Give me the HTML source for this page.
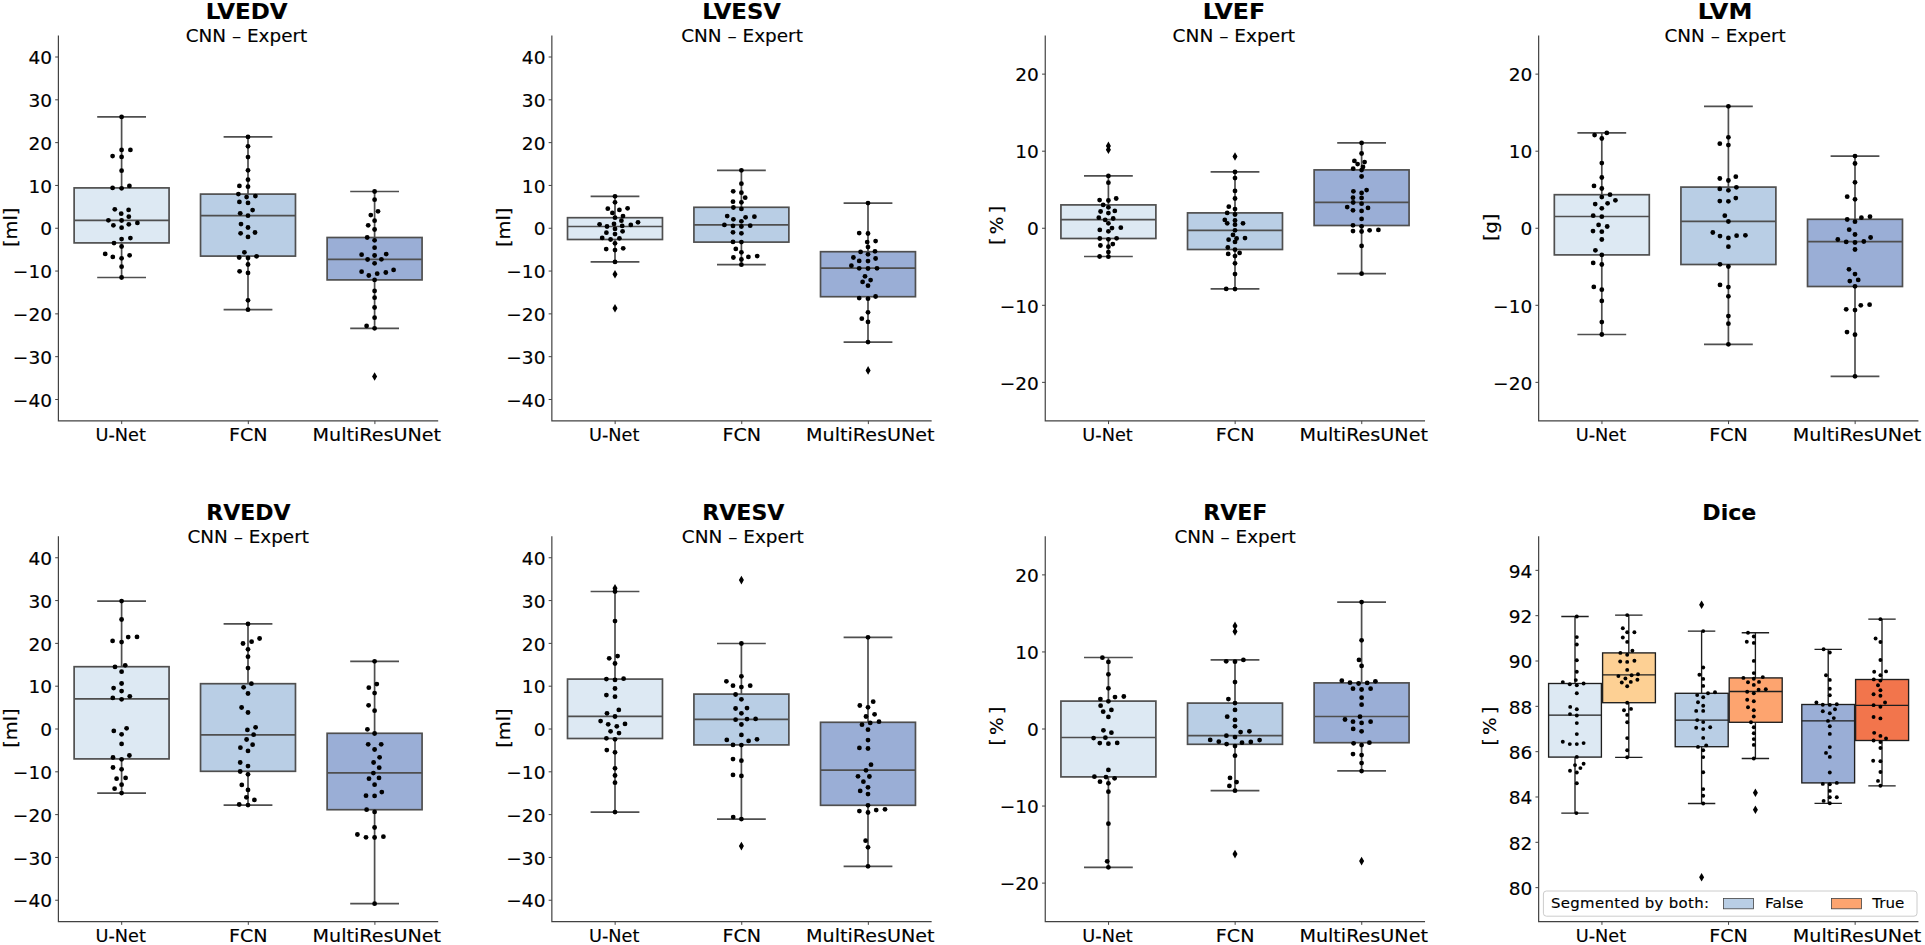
<!DOCTYPE html>
<html lang="en"><head><meta charset="utf-8"><title>CNN – Expert boxplots</title>
<style>html,body{margin:0;padding:0;background:#fff}body{width:1925px;height:945px;overflow:hidden}svg{display:block}svg text{stroke:#000;stroke-width:.15px}</style>
</head><body>
<svg width="1925" height="945" viewBox="0 0 1925 945" font-family="'DejaVu Sans', 'Liberation Sans', sans-serif" fill="#000">
<rect width="1925" height="945" fill="#fff"/>
<g>
<text transform="translate(246.7 19) scale(1.0543 1)" font-size="21.8" text-anchor="middle" font-weight="bold">LVEDV</text>
<text transform="translate(246.5 41.9) scale(1.0116 1)" font-size="18.2" text-anchor="middle">CNN – Expert</text>
<g stroke="#4f4f4f" stroke-width="1.7" fill="none">
<rect x="74.12" y="187.9" width="94.95" height="55" fill="#dde9f3"/>
<path d="M74.12 220.3H169.07M121.6 187.9V116.9M121.6 242.9V277.5M97.2 116.9h48.8M97.2 277.5h48.8"/>
</g>
<g fill="#000"><circle cx="121.6" cy="116.9" r="2.4"/><circle cx="121.6" cy="149.9" r="2.4"/><circle cx="130.4" cy="149.9" r="2.4"/><circle cx="112.6" cy="156.1" r="2.4"/><circle cx="121.6" cy="156.9" r="2.4"/><circle cx="121.6" cy="170.7" r="2.4"/><circle cx="129.4" cy="185.9" r="2.4"/><circle cx="112.6" cy="187.9" r="2.4"/><circle cx="121.6" cy="188.3" r="2.4"/><circle cx="114.8" cy="209.3" r="2.4"/><circle cx="128.6" cy="209.9" r="2.4"/><circle cx="121.2" cy="213.7" r="2.4"/><circle cx="128.8" cy="216.7" r="2.4"/><circle cx="108.4" cy="220.3" r="2.4"/><circle cx="121.6" cy="220.5" r="2.4"/><circle cx="137.4" cy="222.9" r="2.4"/><circle cx="113.4" cy="225.3" r="2.4"/><circle cx="128.8" cy="224.3" r="2.4"/><circle cx="121.6" cy="227.7" r="2.4"/><circle cx="130.4" cy="238.1" r="2.4"/><circle cx="121.6" cy="239.1" r="2.4"/><circle cx="114" cy="243.1" r="2.4"/><circle cx="121.6" cy="246.5" r="2.4"/><circle cx="105.2" cy="253.9" r="2.4"/><circle cx="129.6" cy="255.3" r="2.4"/><circle cx="112.8" cy="256.9" r="2.4"/><circle cx="121.6" cy="258.3" r="2.4"/><circle cx="121.6" cy="266.7" r="2.4"/><circle cx="121.6" cy="277.5" r="2.4"/></g>
<g stroke="#4f4f4f" stroke-width="1.7" fill="none">
<rect x="200.53" y="194.1" width="94.95" height="62" fill="#b9cee5"/>
<path d="M200.53 215.7H295.48M248 194.1V136.9M248 256.1V309.7M223.6 136.9h48.8M223.6 309.7h48.8"/>
</g>
<g fill="#000"><circle cx="248" cy="136.9" r="2.4"/><circle cx="248" cy="146.3" r="2.4"/><circle cx="248" cy="157.1" r="2.4"/><circle cx="248" cy="170.3" r="2.4"/><circle cx="248" cy="179.7" r="2.4"/><circle cx="239.4" cy="185.9" r="2.4"/><circle cx="248" cy="186.7" r="2.4"/><circle cx="238.4" cy="194.1" r="2.4"/><circle cx="246.6" cy="197.1" r="2.4"/><circle cx="255.4" cy="196.1" r="2.4"/><circle cx="239.4" cy="201.9" r="2.4"/><circle cx="248" cy="202.9" r="2.4"/><circle cx="252.6" cy="210.1" r="2.4"/><circle cx="240.2" cy="213.3" r="2.4"/><circle cx="248" cy="215.7" r="2.4"/><circle cx="241" cy="224.1" r="2.4"/><circle cx="248" cy="227.5" r="2.4"/><circle cx="240.6" cy="233.3" r="2.4"/><circle cx="255" cy="232.5" r="2.4"/><circle cx="248" cy="236.9" r="2.4"/><circle cx="244.4" cy="252.3" r="2.4"/><circle cx="239.2" cy="257.5" r="2.4"/><circle cx="248" cy="257.9" r="2.4"/><circle cx="256.6" cy="256.3" r="2.4"/><circle cx="248" cy="264.5" r="2.4"/><circle cx="239.6" cy="271.3" r="2.4"/><circle cx="248" cy="272.9" r="2.4"/><circle cx="248" cy="300.3" r="2.4"/><circle cx="248" cy="309.7" r="2.4"/></g>
<g stroke="#4f4f4f" stroke-width="1.7" fill="none">
<rect x="327.12" y="237.5" width="94.95" height="42.4" fill="#9aaed6"/>
<path d="M327.12 259.3H422.08M374.6 237.5V191.5M374.6 279.9V328.3M350.2 191.5h48.8M350.2 328.3h48.8"/>
</g>
<path d="M374.6 372.2l2.5 4.3l-2.5 4.3l-2.5 -4.3z" fill="#000"/><circle cx="374.6" cy="376.5" r="1.7999999999999998" fill="#000"/>
<g fill="#000"><circle cx="374.6" cy="191.5" r="2.4"/><circle cx="374.6" cy="199.7" r="2.4"/><circle cx="378" cy="211.3" r="2.4"/><circle cx="370.8" cy="215.1" r="2.4"/><circle cx="374.6" cy="220.7" r="2.4"/><circle cx="368.2" cy="225.3" r="2.4"/><circle cx="374.6" cy="229.5" r="2.4"/><circle cx="367.2" cy="237.5" r="2.4"/><circle cx="374.6" cy="240.3" r="2.4"/><circle cx="374.6" cy="247.7" r="2.4"/><circle cx="361.6" cy="254.7" r="2.4"/><circle cx="374.6" cy="255.5" r="2.4"/><circle cx="386.2" cy="254.1" r="2.4"/><circle cx="367.6" cy="259.5" r="2.4"/><circle cx="381.4" cy="259.3" r="2.4"/><circle cx="374.6" cy="263.3" r="2.4"/><circle cx="361.6" cy="271.7" r="2.4"/><circle cx="393.6" cy="269.9" r="2.4"/><circle cx="368.8" cy="275.5" r="2.4"/><circle cx="377.2" cy="273.7" r="2.4"/><circle cx="385.8" cy="272.5" r="2.4"/><circle cx="374.6" cy="279.9" r="2.4"/><circle cx="374.6" cy="290.9" r="2.4"/><circle cx="374.6" cy="297.7" r="2.4"/><circle cx="374.6" cy="307.5" r="2.4"/><circle cx="374.6" cy="317.7" r="2.4"/><circle cx="366.6" cy="325.9" r="2.4"/><circle cx="374.6" cy="328.3" r="2.4"/></g>
<path d="M58.4 35.6V420.9H438.2" fill="none" stroke="#424242" stroke-width="1.2"/>
<path d="M58.4 57.01h-3.2M58.4 99.82h-3.2M58.4 142.63h-3.2M58.4 185.44h-3.2M58.4 228.25h-3.2M58.4 271.06h-3.2M58.4 313.87h-3.2M58.4 356.68h-3.2M58.4 399.49h-3.2M121.7 420.9v3.2M248.3 420.9v3.2M374.9 420.9v3.2" fill="none" stroke="#424242" stroke-width="1"/>
<text transform="translate(52 64.21) scale(1.02 1)" font-size="18.2" text-anchor="end">40</text>
<text transform="translate(52 107.02) scale(1.02 1)" font-size="18.2" text-anchor="end">30</text>
<text transform="translate(52 149.83) scale(1.02 1)" font-size="18.2" text-anchor="end">20</text>
<text transform="translate(52 192.64) scale(1.02 1)" font-size="18.2" text-anchor="end">10</text>
<text transform="translate(52 235.45) scale(1.02 1)" font-size="18.2" text-anchor="end">0</text>
<text transform="translate(52 278.26) scale(1.02 1)" font-size="18.2" text-anchor="end">−10</text>
<text transform="translate(52 321.07) scale(1.02 1)" font-size="18.2" text-anchor="end">−20</text>
<text transform="translate(52 363.88) scale(1.02 1)" font-size="18.2" text-anchor="end">−30</text>
<text transform="translate(52 406.69) scale(1.02 1)" font-size="18.2" text-anchor="end">−40</text>
<text transform="translate(120.7 441.1) scale(0.973 1)" font-size="18.2" text-anchor="middle">U-Net</text>
<text transform="translate(248.3 441.1) scale(1.052 1)" font-size="18.2" text-anchor="middle">FCN</text>
<text transform="translate(376.8 441.1) scale(1.052 1)" font-size="18.2" text-anchor="middle">MultiResUNet</text>
<text transform="translate(16.6 227.35) rotate(-90) scale(1.1 1)" font-size="17.7" text-anchor="middle">[ml]</text>
</g>
<g>
<text transform="translate(741.65 19) scale(1.0461 1)" font-size="21.8" text-anchor="middle" font-weight="bold">LVESV</text>
<text transform="translate(742.05 41.9) scale(1.0129 1)" font-size="18.2" text-anchor="middle">CNN – Expert</text>
<g stroke="#4f4f4f" stroke-width="1.7" fill="none">
<rect x="567.52" y="217.7" width="94.95" height="21.8" fill="#dde9f3"/>
<path d="M567.52 226.5H662.48M615 217.7V196.3M615 239.5V261.9M590.6 196.3h48.8M590.6 261.9h48.8"/>
</g>
<path d="M615 270l2.5 4.3l-2.5 4.3l-2.5 -4.3z" fill="#000"/><circle cx="615" cy="274.3" r="1.7999999999999998" fill="#000"/>
<path d="M615 304l2.5 4.3l-2.5 4.3l-2.5 -4.3z" fill="#000"/><circle cx="615" cy="308.3" r="1.7999999999999998" fill="#000"/>
<g fill="#000"><circle cx="615" cy="196.3" r="2.4"/><circle cx="615" cy="202.3" r="2.4"/><circle cx="607.8" cy="208.7" r="2.4"/><circle cx="619.4" cy="209.9" r="2.4"/><circle cx="627.6" cy="208.3" r="2.4"/><circle cx="612.4" cy="212.9" r="2.4"/><circle cx="623" cy="216.1" r="2.4"/><circle cx="615" cy="217.7" r="2.4"/><circle cx="621.4" cy="220.7" r="2.4"/><circle cx="599.6" cy="224.3" r="2.4"/><circle cx="614" cy="223.9" r="2.4"/><circle cx="638" cy="222.3" r="2.4"/><circle cx="607" cy="226.5" r="2.4"/><circle cx="622.2" cy="225.9" r="2.4"/><circle cx="630.8" cy="224.9" r="2.4"/><circle cx="615" cy="228.9" r="2.4"/><circle cx="606.4" cy="232.7" r="2.4"/><circle cx="622.6" cy="231.3" r="2.4"/><circle cx="615" cy="234.1" r="2.4"/><circle cx="602.2" cy="237.9" r="2.4"/><circle cx="610.6" cy="239.5" r="2.4"/><circle cx="619.4" cy="238.3" r="2.4"/><circle cx="615" cy="243.3" r="2.4"/><circle cx="606.2" cy="249.1" r="2.4"/><circle cx="615" cy="250.1" r="2.4"/><circle cx="623.2" cy="248.3" r="2.4"/><circle cx="615" cy="261.9" r="2.4"/></g>
<g stroke="#4f4f4f" stroke-width="1.7" fill="none">
<rect x="693.92" y="207.3" width="94.95" height="34.8" fill="#b9cee5"/>
<path d="M693.92 224.9H788.88M741.4 207.3V170.3M741.4 242.1V264.7M717 170.3h48.8M717 264.7h48.8"/>
</g>
<g fill="#000"><circle cx="741.4" cy="170.3" r="2.4"/><circle cx="741.4" cy="183.7" r="2.4"/><circle cx="733.2" cy="191.3" r="2.4"/><circle cx="741.4" cy="192.7" r="2.4"/><circle cx="745.2" cy="197.7" r="2.4"/><circle cx="733" cy="201.7" r="2.4"/><circle cx="741.4" cy="202.3" r="2.4"/><circle cx="733.4" cy="207.5" r="2.4"/><circle cx="741.4" cy="208.9" r="2.4"/><circle cx="727.2" cy="216.1" r="2.4"/><circle cx="745.6" cy="217.3" r="2.4"/><circle cx="754.4" cy="216.7" r="2.4"/><circle cx="733.4" cy="219.3" r="2.4"/><circle cx="741.4" cy="221.3" r="2.4"/><circle cx="724.4" cy="224.9" r="2.4"/><circle cx="733" cy="225.9" r="2.4"/><circle cx="741.4" cy="226.5" r="2.4"/><circle cx="750.2" cy="225.7" r="2.4"/><circle cx="733" cy="232.3" r="2.4"/><circle cx="741.4" cy="233.3" r="2.4"/><circle cx="733" cy="241.9" r="2.4"/><circle cx="741.4" cy="242.1" r="2.4"/><circle cx="735.8" cy="248.9" r="2.4"/><circle cx="741.4" cy="252.3" r="2.4"/><circle cx="733.4" cy="257.5" r="2.4"/><circle cx="741.4" cy="259.5" r="2.4"/><circle cx="748.4" cy="256.9" r="2.4"/><circle cx="757.2" cy="256.1" r="2.4"/><circle cx="741.4" cy="264.7" r="2.4"/></g>
<g stroke="#4f4f4f" stroke-width="1.7" fill="none">
<rect x="820.52" y="251.7" width="94.95" height="45" fill="#9aaed6"/>
<path d="M820.52 268.1H915.48M868 251.7V203.1M868 296.7V342.1M843.6 203.1h48.8M843.6 342.1h48.8"/>
</g>
<path d="M868.1 366.1l2.5 4.3l-2.5 4.3l-2.5 -4.3z" fill="#000"/><circle cx="868.1" cy="370.4" r="1.7999999999999998" fill="#000"/>
<g fill="#000"><circle cx="868" cy="203.1" r="2.4"/><circle cx="859.2" cy="233.1" r="2.4"/><circle cx="868" cy="233.5" r="2.4"/><circle cx="867.2" cy="242.1" r="2.4"/><circle cx="875.6" cy="241.1" r="2.4"/><circle cx="868" cy="247.1" r="2.4"/><circle cx="860.6" cy="251.9" r="2.4"/><circle cx="875" cy="251.3" r="2.4"/><circle cx="868" cy="254.3" r="2.4"/><circle cx="853.4" cy="257.5" r="2.4"/><circle cx="875.6" cy="258.5" r="2.4"/><circle cx="859.2" cy="260.9" r="2.4"/><circle cx="868" cy="261.1" r="2.4"/><circle cx="851.4" cy="265.7" r="2.4"/><circle cx="859.2" cy="268.3" r="2.4"/><circle cx="868" cy="268.5" r="2.4"/><circle cx="877" cy="268.3" r="2.4"/><circle cx="865" cy="276.3" r="2.4"/><circle cx="870.6" cy="280.1" r="2.4"/><circle cx="862.6" cy="281.9" r="2.4"/><circle cx="868" cy="285.7" r="2.4"/><circle cx="859.2" cy="298.1" r="2.4"/><circle cx="868" cy="298.7" r="2.4"/><circle cx="875.6" cy="296.5" r="2.4"/><circle cx="868" cy="312.3" r="2.4"/><circle cx="861.8" cy="318.7" r="2.4"/><circle cx="868" cy="321.9" r="2.4"/><circle cx="868" cy="342.1" r="2.4"/></g>
<path d="M551.85 35.6V420.9H931.65" fill="none" stroke="#424242" stroke-width="1.2"/>
<path d="M551.85 57.01h-3.2M551.85 99.82h-3.2M551.85 142.63h-3.2M551.85 185.44h-3.2M551.85 228.25h-3.2M551.85 271.06h-3.2M551.85 313.87h-3.2M551.85 356.68h-3.2M551.85 399.49h-3.2M615.15 420.9v3.2M741.75 420.9v3.2M868.35 420.9v3.2" fill="none" stroke="#424242" stroke-width="1"/>
<text transform="translate(545.45 64.21) scale(1.02 1)" font-size="18.2" text-anchor="end">40</text>
<text transform="translate(545.45 107.02) scale(1.02 1)" font-size="18.2" text-anchor="end">30</text>
<text transform="translate(545.45 149.83) scale(1.02 1)" font-size="18.2" text-anchor="end">20</text>
<text transform="translate(545.45 192.64) scale(1.02 1)" font-size="18.2" text-anchor="end">10</text>
<text transform="translate(545.45 235.45) scale(1.02 1)" font-size="18.2" text-anchor="end">0</text>
<text transform="translate(545.45 278.26) scale(1.02 1)" font-size="18.2" text-anchor="end">−10</text>
<text transform="translate(545.45 321.07) scale(1.02 1)" font-size="18.2" text-anchor="end">−20</text>
<text transform="translate(545.45 363.88) scale(1.02 1)" font-size="18.2" text-anchor="end">−30</text>
<text transform="translate(545.45 406.69) scale(1.02 1)" font-size="18.2" text-anchor="end">−40</text>
<text transform="translate(614.15 441.1) scale(0.973 1)" font-size="18.2" text-anchor="middle">U-Net</text>
<text transform="translate(741.75 441.1) scale(1.052 1)" font-size="18.2" text-anchor="middle">FCN</text>
<text transform="translate(870.25 441.1) scale(1.052 1)" font-size="18.2" text-anchor="middle">MultiResUNet</text>
<text transform="translate(510.05 227.35) rotate(-90) scale(1.1 1)" font-size="17.7" text-anchor="middle">[ml]</text>
</g>
<g>
<text transform="translate(1233.85 19) scale(1.0845 1)" font-size="21.8" text-anchor="middle" font-weight="bold">LVEF</text>
<text transform="translate(1233.85 41.9) scale(1.02 1)" font-size="18.2" text-anchor="middle">CNN – Expert</text>
<g stroke="#4f4f4f" stroke-width="1.7" fill="none">
<rect x="1060.93" y="204.9" width="94.95" height="33.6" fill="#dde9f3"/>
<path d="M1060.93 219.7H1155.88M1108.4 204.9V175.9M1108.4 238.5V256.5M1084 175.9h48.8M1084 256.5h48.8"/>
</g>
<path d="M1108.4 141.6l2.5 4.3l-2.5 4.3l-2.5 -4.3z" fill="#000"/><circle cx="1108.4" cy="145.9" r="1.7999999999999998" fill="#000"/>
<path d="M1108.4 145.4l2.5 4.3l-2.5 4.3l-2.5 -4.3z" fill="#000"/><circle cx="1108.4" cy="149.7" r="1.7999999999999998" fill="#000"/>
<g fill="#000"><circle cx="1108.4" cy="175.9" r="2.4"/><circle cx="1108.4" cy="182.7" r="2.4"/><circle cx="1099.6" cy="200.1" r="2.4"/><circle cx="1108.4" cy="200.5" r="2.4"/><circle cx="1116.2" cy="198.5" r="2.4"/><circle cx="1103.2" cy="204.9" r="2.4"/><circle cx="1108.4" cy="207.3" r="2.4"/><circle cx="1100.6" cy="211.5" r="2.4"/><circle cx="1108.4" cy="213.1" r="2.4"/><circle cx="1114.8" cy="210.9" r="2.4"/><circle cx="1098.8" cy="217.7" r="2.4"/><circle cx="1105.2" cy="219.9" r="2.4"/><circle cx="1113.2" cy="218.5" r="2.4"/><circle cx="1108.4" cy="223.3" r="2.4"/><circle cx="1120.8" cy="227.7" r="2.4"/><circle cx="1112" cy="228.1" r="2.4"/><circle cx="1099.8" cy="229.9" r="2.4"/><circle cx="1108.4" cy="231.3" r="2.4"/><circle cx="1099.8" cy="238.5" r="2.4"/><circle cx="1108.4" cy="239.3" r="2.4"/><circle cx="1116.6" cy="238.3" r="2.4"/><circle cx="1112.8" cy="244.1" r="2.4"/><circle cx="1100.4" cy="245.5" r="2.4"/><circle cx="1108.4" cy="246.7" r="2.4"/><circle cx="1108.4" cy="252.1" r="2.4"/><circle cx="1099.6" cy="256.5" r="2.4"/><circle cx="1108.4" cy="256.7" r="2.4"/></g>
<g stroke="#4f4f4f" stroke-width="1.7" fill="none">
<rect x="1187.53" y="212.9" width="94.95" height="36.6" fill="#b9cee5"/>
<path d="M1187.53 230.3H1282.47M1235 212.9V171.9M1235 249.5V288.9M1210.6 171.9h48.8M1210.6 288.9h48.8"/>
</g>
<path d="M1235 152.2l2.5 4.3l-2.5 4.3l-2.5 -4.3z" fill="#000"/><circle cx="1235" cy="156.5" r="1.7999999999999998" fill="#000"/>
<g fill="#000"><circle cx="1235" cy="171.9" r="2.4"/><circle cx="1235" cy="178.1" r="2.4"/><circle cx="1235" cy="190.9" r="2.4"/><circle cx="1235" cy="198.5" r="2.4"/><circle cx="1228.8" cy="206.7" r="2.4"/><circle cx="1235" cy="209.1" r="2.4"/><circle cx="1227.2" cy="212.9" r="2.4"/><circle cx="1235" cy="214.5" r="2.4"/><circle cx="1224.8" cy="219.9" r="2.4"/><circle cx="1235" cy="220.5" r="2.4"/><circle cx="1227.2" cy="223.3" r="2.4"/><circle cx="1243" cy="223.3" r="2.4"/><circle cx="1235" cy="224.7" r="2.4"/><circle cx="1235" cy="230.3" r="2.4"/><circle cx="1233" cy="234.9" r="2.4"/><circle cx="1228.6" cy="239.7" r="2.4"/><circle cx="1236.6" cy="238.5" r="2.4"/><circle cx="1245" cy="238.1" r="2.4"/><circle cx="1235" cy="241.9" r="2.4"/><circle cx="1227.8" cy="247.5" r="2.4"/><circle cx="1235" cy="249.7" r="2.4"/><circle cx="1228.2" cy="253.9" r="2.4"/><circle cx="1239.6" cy="252.9" r="2.4"/><circle cx="1235" cy="256.1" r="2.4"/><circle cx="1235" cy="263.3" r="2.4"/><circle cx="1235" cy="274.1" r="2.4"/><circle cx="1226.2" cy="288.9" r="2.4"/><circle cx="1235" cy="289.1" r="2.4"/></g>
<g stroke="#4f4f4f" stroke-width="1.7" fill="none">
<rect x="1314.12" y="169.9" width="94.95" height="55.6" fill="#9aaed6"/>
<path d="M1314.12 202.3H1409.07M1361.6 169.9V142.9M1361.6 225.5V273.7M1337.2 142.9h48.8M1337.2 273.7h48.8"/>
</g>
<g fill="#000"><circle cx="1361.6" cy="142.9" r="2.4"/><circle cx="1361.6" cy="153.5" r="2.4"/><circle cx="1354.4" cy="160.9" r="2.4"/><circle cx="1364.6" cy="162.1" r="2.4"/><circle cx="1357.6" cy="164.1" r="2.4"/><circle cx="1363" cy="166.9" r="2.4"/><circle cx="1353.2" cy="168.7" r="2.4"/><circle cx="1361.6" cy="170.1" r="2.4"/><circle cx="1361.6" cy="176.5" r="2.4"/><circle cx="1366.6" cy="190.1" r="2.4"/><circle cx="1353.4" cy="191.3" r="2.4"/><circle cx="1361.6" cy="192.9" r="2.4"/><circle cx="1353" cy="197.7" r="2.4"/><circle cx="1361.6" cy="197.9" r="2.4"/><circle cx="1353.2" cy="202.5" r="2.4"/><circle cx="1361.6" cy="203.7" r="2.4"/><circle cx="1347.2" cy="207.1" r="2.4"/><circle cx="1368" cy="207.9" r="2.4"/><circle cx="1353" cy="210.3" r="2.4"/><circle cx="1361.6" cy="210.9" r="2.4"/><circle cx="1361.6" cy="218.9" r="2.4"/><circle cx="1353" cy="225.3" r="2.4"/><circle cx="1361.6" cy="226.3" r="2.4"/><circle cx="1353" cy="231.1" r="2.4"/><circle cx="1361.6" cy="231.5" r="2.4"/><circle cx="1369.6" cy="230.3" r="2.4"/><circle cx="1378.4" cy="229.9" r="2.4"/><circle cx="1361.6" cy="245.9" r="2.4"/><circle cx="1361.6" cy="273.7" r="2.4"/></g>
<path d="M1045.25 35.6V420.9H1425.05" fill="none" stroke="#424242" stroke-width="1.2"/>
<path d="M1045.25 74.13h-3.2M1045.25 151.19h-3.2M1045.25 228.25h-3.2M1045.25 305.31h-3.2M1045.25 382.37h-3.2M1108.55 420.9v3.2M1235.15 420.9v3.2M1361.75 420.9v3.2" fill="none" stroke="#424242" stroke-width="1"/>
<text transform="translate(1038.85 81.33) scale(1.02 1)" font-size="18.2" text-anchor="end">20</text>
<text transform="translate(1038.85 158.39) scale(1.02 1)" font-size="18.2" text-anchor="end">10</text>
<text transform="translate(1038.85 235.45) scale(1.02 1)" font-size="18.2" text-anchor="end">0</text>
<text transform="translate(1038.85 312.51) scale(1.02 1)" font-size="18.2" text-anchor="end">−10</text>
<text transform="translate(1038.85 389.57) scale(1.02 1)" font-size="18.2" text-anchor="end">−20</text>
<text transform="translate(1107.55 441.1) scale(0.973 1)" font-size="18.2" text-anchor="middle">U-Net</text>
<text transform="translate(1235.15 441.1) scale(1.052 1)" font-size="18.2" text-anchor="middle">FCN</text>
<text transform="translate(1363.65 441.1) scale(1.052 1)" font-size="18.2" text-anchor="middle">MultiResUNet</text>
<text transform="translate(1003.45 225.35) rotate(-90) scale(1.05 1)" font-size="17.7" text-anchor="middle" word-spacing="-2.4">[ % ]</text>
</g>
<g>
<text transform="translate(1725.05 19) scale(1.1003 1)" font-size="21.8" text-anchor="middle" font-weight="bold">LVM</text>
<text transform="translate(1725.15 41.9) scale(1.0079 1)" font-size="18.2" text-anchor="middle">CNN – Expert</text>
<g stroke="#4f4f4f" stroke-width="1.7" fill="none">
<rect x="1554.33" y="194.7" width="94.95" height="60.2" fill="#dde9f3"/>
<path d="M1554.33 216.5H1649.27M1601.8 194.7V132.9M1601.8 254.9V334.5M1577.4 132.9h48.8M1577.4 334.5h48.8"/>
</g>
<g fill="#000"><circle cx="1606.8" cy="132.9" r="2.4"/><circle cx="1594.6" cy="135.1" r="2.4"/><circle cx="1601.8" cy="138.5" r="2.4"/><circle cx="1601.8" cy="163.1" r="2.4"/><circle cx="1601.8" cy="177.5" r="2.4"/><circle cx="1594" cy="185.9" r="2.4"/><circle cx="1601.8" cy="188.5" r="2.4"/><circle cx="1610" cy="194.7" r="2.4"/><circle cx="1601.8" cy="197.1" r="2.4"/><circle cx="1615.4" cy="200.3" r="2.4"/><circle cx="1595.2" cy="204.1" r="2.4"/><circle cx="1607.6" cy="203.3" r="2.4"/><circle cx="1601.8" cy="208.3" r="2.4"/><circle cx="1593.2" cy="215.7" r="2.4"/><circle cx="1601.8" cy="216.7" r="2.4"/><circle cx="1598.6" cy="224.9" r="2.4"/><circle cx="1607.2" cy="226.5" r="2.4"/><circle cx="1593" cy="231.1" r="2.4"/><circle cx="1601.8" cy="231.7" r="2.4"/><circle cx="1601.8" cy="239.5" r="2.4"/><circle cx="1595.4" cy="250.3" r="2.4"/><circle cx="1601.8" cy="254.9" r="2.4"/><circle cx="1593.2" cy="262.9" r="2.4"/><circle cx="1601.8" cy="264.5" r="2.4"/><circle cx="1593.8" cy="286.9" r="2.4"/><circle cx="1601.8" cy="289.7" r="2.4"/><circle cx="1601.8" cy="300.9" r="2.4"/><circle cx="1601.8" cy="322.1" r="2.4"/><circle cx="1601.8" cy="334.5" r="2.4"/></g>
<g stroke="#4f4f4f" stroke-width="1.7" fill="none">
<rect x="1680.93" y="187.1" width="94.95" height="77.4" fill="#b9cee5"/>
<path d="M1680.93 221.3H1775.88M1728.4 187.1V106.3M1728.4 264.5V344.3M1704 106.3h48.8M1704 344.3h48.8"/>
</g>
<g fill="#000"><circle cx="1728.4" cy="106.3" r="2.4"/><circle cx="1728.4" cy="137.3" r="2.4"/><circle cx="1719.8" cy="143.7" r="2.4"/><circle cx="1728.4" cy="145.1" r="2.4"/><circle cx="1735.8" cy="176.7" r="2.4"/><circle cx="1719.8" cy="178.5" r="2.4"/><circle cx="1728.4" cy="180.5" r="2.4"/><circle cx="1736.4" cy="187.3" r="2.4"/><circle cx="1719.8" cy="188.9" r="2.4"/><circle cx="1728.4" cy="190.3" r="2.4"/><circle cx="1735.8" cy="198.1" r="2.4"/><circle cx="1719.8" cy="201.1" r="2.4"/><circle cx="1728.4" cy="201.3" r="2.4"/><circle cx="1724.8" cy="215.7" r="2.4"/><circle cx="1728.4" cy="221.5" r="2.4"/><circle cx="1712.8" cy="232.5" r="2.4"/><circle cx="1720" cy="236.1" r="2.4"/><circle cx="1728.4" cy="237.9" r="2.4"/><circle cx="1736.6" cy="235.7" r="2.4"/><circle cx="1745.4" cy="235.3" r="2.4"/><circle cx="1728.4" cy="246.7" r="2.4"/><circle cx="1720" cy="264.3" r="2.4"/><circle cx="1728.4" cy="266.5" r="2.4"/><circle cx="1720" cy="284.9" r="2.4"/><circle cx="1728.4" cy="287.1" r="2.4"/><circle cx="1728.4" cy="296.3" r="2.4"/><circle cx="1728.4" cy="316.1" r="2.4"/><circle cx="1728.4" cy="323.7" r="2.4"/><circle cx="1728.4" cy="344.3" r="2.4"/></g>
<g stroke="#4f4f4f" stroke-width="1.7" fill="none">
<rect x="1807.53" y="219.3" width="94.95" height="67.2" fill="#9aaed6"/>
<path d="M1807.53 241.7H1902.47M1855 219.3V156.1M1855 286.5V376.3M1830.6 156.1h48.8M1830.6 376.3h48.8"/>
</g>
<g fill="#000"><circle cx="1855" cy="156.1" r="2.4"/><circle cx="1855" cy="163.5" r="2.4"/><circle cx="1855" cy="182.3" r="2.4"/><circle cx="1847.2" cy="196.7" r="2.4"/><circle cx="1855" cy="199.3" r="2.4"/><circle cx="1861.4" cy="217.7" r="2.4"/><circle cx="1870" cy="216.7" r="2.4"/><circle cx="1847.2" cy="219.5" r="2.4"/><circle cx="1855" cy="221.7" r="2.4"/><circle cx="1849.2" cy="229.7" r="2.4"/><circle cx="1855" cy="234.5" r="2.4"/><circle cx="1837.8" cy="239.5" r="2.4"/><circle cx="1870.6" cy="237.5" r="2.4"/><circle cx="1846.2" cy="241.9" r="2.4"/><circle cx="1855" cy="242.5" r="2.4"/><circle cx="1863.8" cy="241.5" r="2.4"/><circle cx="1855" cy="249.5" r="2.4"/><circle cx="1849" cy="269.3" r="2.4"/><circle cx="1855" cy="274.1" r="2.4"/><circle cx="1849.8" cy="281.1" r="2.4"/><circle cx="1858.2" cy="279.9" r="2.4"/><circle cx="1855" cy="286.3" r="2.4"/><circle cx="1860.8" cy="305.3" r="2.4"/><circle cx="1869.6" cy="304.7" r="2.4"/><circle cx="1846.2" cy="309.3" r="2.4"/><circle cx="1855" cy="310.1" r="2.4"/><circle cx="1847" cy="332.1" r="2.4"/><circle cx="1855" cy="334.7" r="2.4"/><circle cx="1855" cy="376.3" r="2.4"/></g>
<path d="M1538.65 35.6V420.9H1918.45" fill="none" stroke="#424242" stroke-width="1.2"/>
<path d="M1538.65 74.13h-3.2M1538.65 151.19h-3.2M1538.65 228.25h-3.2M1538.65 305.31h-3.2M1538.65 382.37h-3.2M1601.95 420.9v3.2M1728.55 420.9v3.2M1855.15 420.9v3.2" fill="none" stroke="#424242" stroke-width="1"/>
<text transform="translate(1532.25 81.33) scale(1.02 1)" font-size="18.2" text-anchor="end">20</text>
<text transform="translate(1532.25 158.39) scale(1.02 1)" font-size="18.2" text-anchor="end">10</text>
<text transform="translate(1532.25 235.45) scale(1.02 1)" font-size="18.2" text-anchor="end">0</text>
<text transform="translate(1532.25 312.51) scale(1.02 1)" font-size="18.2" text-anchor="end">−10</text>
<text transform="translate(1532.25 389.57) scale(1.02 1)" font-size="18.2" text-anchor="end">−20</text>
<text transform="translate(1600.95 441.1) scale(0.973 1)" font-size="18.2" text-anchor="middle">U-Net</text>
<text transform="translate(1728.55 441.1) scale(1.052 1)" font-size="18.2" text-anchor="middle">FCN</text>
<text transform="translate(1857.05 441.1) scale(1.052 1)" font-size="18.2" text-anchor="middle">MultiResUNet</text>
<text transform="translate(1496.85 227.35) rotate(-90) scale(1.1 1)" font-size="17.7" text-anchor="middle">[g]</text>
</g>
<g>
<text transform="translate(248.5 519.75) scale(1.0094 1)" font-size="21.8" text-anchor="middle" font-weight="bold">RVEDV</text>
<text transform="translate(248.2 542.65) scale(1.0099 1)" font-size="18.2" text-anchor="middle">CNN – Expert</text>
<g stroke="#4f4f4f" stroke-width="1.7" fill="none">
<rect x="74.12" y="666.7" width="94.95" height="92.2" fill="#dde9f3"/>
<path d="M74.12 698.9H169.07M121.6 666.7V601.1M121.6 758.9V793.1M97.2 601.1h48.8M97.2 793.1h48.8"/>
</g>
<g fill="#000"><circle cx="121.6" cy="601.1" r="2.4"/><circle cx="121.6" cy="619.5" r="2.4"/><circle cx="128.2" cy="637.1" r="2.4"/><circle cx="137" cy="636.9" r="2.4"/><circle cx="112.6" cy="640.9" r="2.4"/><circle cx="121.6" cy="642.1" r="2.4"/><circle cx="115" cy="666.9" r="2.4"/><circle cx="125.2" cy="665.3" r="2.4"/><circle cx="121.6" cy="671.7" r="2.4"/><circle cx="121.6" cy="683.5" r="2.4"/><circle cx="113.6" cy="688.1" r="2.4"/><circle cx="121.6" cy="691.1" r="2.4"/><circle cx="129.8" cy="696.3" r="2.4"/><circle cx="112.8" cy="697.9" r="2.4"/><circle cx="121.6" cy="699.3" r="2.4"/><circle cx="126.6" cy="728.3" r="2.4"/><circle cx="113.8" cy="730.9" r="2.4"/><circle cx="121.6" cy="734.3" r="2.4"/><circle cx="121.6" cy="743.9" r="2.4"/><circle cx="129.4" cy="755.5" r="2.4"/><circle cx="113" cy="757.5" r="2.4"/><circle cx="121.6" cy="759.3" r="2.4"/><circle cx="113" cy="767.5" r="2.4"/><circle cx="121.6" cy="769.3" r="2.4"/><circle cx="116.6" cy="778.7" r="2.4"/><circle cx="125.6" cy="777.9" r="2.4"/><circle cx="121.6" cy="784.7" r="2.4"/><circle cx="114.6" cy="788.7" r="2.4"/><circle cx="121.6" cy="793.1" r="2.4"/></g>
<g stroke="#4f4f4f" stroke-width="1.7" fill="none">
<rect x="200.53" y="683.7" width="94.95" height="87.6" fill="#b9cee5"/>
<path d="M200.53 734.9H295.48M248 683.7V623.9M248 771.3V805.1M223.6 623.9h48.8M223.6 805.1h48.8"/>
</g>
<g fill="#000"><circle cx="248" cy="623.9" r="2.4"/><circle cx="259.6" cy="638.5" r="2.4"/><circle cx="251.6" cy="641.7" r="2.4"/><circle cx="243" cy="643.5" r="2.4"/><circle cx="248" cy="649.3" r="2.4"/><circle cx="248" cy="656.7" r="2.4"/><circle cx="248" cy="668.1" r="2.4"/><circle cx="251.4" cy="683.7" r="2.4"/><circle cx="243.6" cy="687.3" r="2.4"/><circle cx="248" cy="693.5" r="2.4"/><circle cx="241.6" cy="707.5" r="2.4"/><circle cx="248" cy="712.5" r="2.4"/><circle cx="255.6" cy="727.3" r="2.4"/><circle cx="247.4" cy="729.9" r="2.4"/><circle cx="253.6" cy="734.7" r="2.4"/><circle cx="246.6" cy="739.5" r="2.4"/><circle cx="252.6" cy="744.7" r="2.4"/><circle cx="240.4" cy="747.7" r="2.4"/><circle cx="248" cy="750.9" r="2.4"/><circle cx="240.2" cy="762.5" r="2.4"/><circle cx="248" cy="766.1" r="2.4"/><circle cx="240.2" cy="771.5" r="2.4"/><circle cx="248" cy="774.3" r="2.4"/><circle cx="241.8" cy="784.9" r="2.4"/><circle cx="248" cy="789.9" r="2.4"/><circle cx="246.4" cy="797.3" r="2.4"/><circle cx="254.4" cy="799.9" r="2.4"/><circle cx="239.2" cy="804.5" r="2.4"/><circle cx="248" cy="805.1" r="2.4"/></g>
<g stroke="#4f4f4f" stroke-width="1.7" fill="none">
<rect x="327.12" y="733.3" width="94.95" height="76.4" fill="#9aaed6"/>
<path d="M327.12 772.9H422.08M374.6 733.3V661.3M374.6 809.7V903.7M350.2 661.3h48.8M350.2 903.7h48.8"/>
</g>
<g fill="#000"><circle cx="374.6" cy="661.3" r="2.4"/><circle cx="376.8" cy="684.1" r="2.4"/><circle cx="368.8" cy="687.7" r="2.4"/><circle cx="374.6" cy="693.1" r="2.4"/><circle cx="368.6" cy="705.3" r="2.4"/><circle cx="374.6" cy="710.7" r="2.4"/><circle cx="367.4" cy="729.3" r="2.4"/><circle cx="374.6" cy="733.5" r="2.4"/><circle cx="368.2" cy="744.3" r="2.4"/><circle cx="381.2" cy="744.3" r="2.4"/><circle cx="374.6" cy="749.5" r="2.4"/><circle cx="379.6" cy="757.3" r="2.4"/><circle cx="373.6" cy="762.5" r="2.4"/><circle cx="379.2" cy="767.7" r="2.4"/><circle cx="373.4" cy="773.1" r="2.4"/><circle cx="369" cy="778.7" r="2.4"/><circle cx="379" cy="777.9" r="2.4"/><circle cx="374.6" cy="784.7" r="2.4"/><circle cx="381.8" cy="792.1" r="2.4"/><circle cx="366" cy="795.7" r="2.4"/><circle cx="374.6" cy="795.9" r="2.4"/><circle cx="366.6" cy="809.7" r="2.4"/><circle cx="374.6" cy="811.9" r="2.4"/><circle cx="374.6" cy="827.5" r="2.4"/><circle cx="357.4" cy="834.5" r="2.4"/><circle cx="366" cy="837.3" r="2.4"/><circle cx="374.6" cy="837.5" r="2.4"/><circle cx="383.4" cy="836.7" r="2.4"/><circle cx="374.6" cy="903.7" r="2.4"/></g>
<path d="M58.4 536.35V921.65H438.2" fill="none" stroke="#424242" stroke-width="1.2"/>
<path d="M58.4 557.76h-3.2M58.4 600.57h-3.2M58.4 643.38h-3.2M58.4 686.19h-3.2M58.4 729h-3.2M58.4 771.81h-3.2M58.4 814.62h-3.2M58.4 857.43h-3.2M58.4 900.24h-3.2M121.7 921.65v3.2M248.3 921.65v3.2M374.9 921.65v3.2" fill="none" stroke="#424242" stroke-width="1"/>
<text transform="translate(52 564.96) scale(1.02 1)" font-size="18.2" text-anchor="end">40</text>
<text transform="translate(52 607.77) scale(1.02 1)" font-size="18.2" text-anchor="end">30</text>
<text transform="translate(52 650.58) scale(1.02 1)" font-size="18.2" text-anchor="end">20</text>
<text transform="translate(52 693.39) scale(1.02 1)" font-size="18.2" text-anchor="end">10</text>
<text transform="translate(52 736.2) scale(1.02 1)" font-size="18.2" text-anchor="end">0</text>
<text transform="translate(52 779.01) scale(1.02 1)" font-size="18.2" text-anchor="end">−10</text>
<text transform="translate(52 821.82) scale(1.02 1)" font-size="18.2" text-anchor="end">−20</text>
<text transform="translate(52 864.63) scale(1.02 1)" font-size="18.2" text-anchor="end">−30</text>
<text transform="translate(52 907.44) scale(1.02 1)" font-size="18.2" text-anchor="end">−40</text>
<text transform="translate(120.7 941.85) scale(0.973 1)" font-size="18.2" text-anchor="middle">U-Net</text>
<text transform="translate(248.3 941.85) scale(1.052 1)" font-size="18.2" text-anchor="middle">FCN</text>
<text transform="translate(376.8 941.85) scale(1.052 1)" font-size="18.2" text-anchor="middle">MultiResUNet</text>
<text transform="translate(16.6 728.1) rotate(-90) scale(1.1 1)" font-size="17.7" text-anchor="middle">[ml]</text>
</g>
<g>
<text transform="translate(743.35 519.75) scale(1.0135 1)" font-size="21.8" text-anchor="middle" font-weight="bold">RVESV</text>
<text transform="translate(742.75 542.65) scale(1.0148 1)" font-size="18.2" text-anchor="middle">CNN – Expert</text>
<g stroke="#4f4f4f" stroke-width="1.7" fill="none">
<rect x="567.52" y="679.1" width="94.95" height="59.4" fill="#dde9f3"/>
<path d="M567.52 716.3H662.48M615 679.1V591.5M615 738.5V812.1M590.6 591.5h48.8M590.6 812.1h48.8"/>
</g>
<path d="M615 584l2.5 4.3l-2.5 4.3l-2.5 -4.3z" fill="#000"/><circle cx="615" cy="588.3" r="1.7999999999999998" fill="#000"/>
<g fill="#000"><circle cx="615" cy="591.5" r="2.4"/><circle cx="615" cy="621.1" r="2.4"/><circle cx="617.6" cy="656.1" r="2.4"/><circle cx="609.2" cy="658.3" r="2.4"/><circle cx="615" cy="663.5" r="2.4"/><circle cx="606.4" cy="679.1" r="2.4"/><circle cx="615" cy="679.9" r="2.4"/><circle cx="623.6" cy="678.7" r="2.4"/><circle cx="615" cy="688.5" r="2.4"/><circle cx="606.4" cy="695.1" r="2.4"/><circle cx="615" cy="696.7" r="2.4"/><circle cx="618.8" cy="709.9" r="2.4"/><circle cx="607" cy="713.3" r="2.4"/><circle cx="615" cy="716.5" r="2.4"/><circle cx="600.6" cy="721.1" r="2.4"/><circle cx="608.2" cy="724.3" r="2.4"/><circle cx="616.8" cy="726.3" r="2.4"/><circle cx="625" cy="723.9" r="2.4"/><circle cx="610.6" cy="731.3" r="2.4"/><circle cx="619" cy="733.1" r="2.4"/><circle cx="606.4" cy="738.3" r="2.4"/><circle cx="615" cy="739.3" r="2.4"/><circle cx="606.8" cy="750.1" r="2.4"/><circle cx="615" cy="752.3" r="2.4"/><circle cx="615" cy="768.3" r="2.4"/><circle cx="615" cy="775.5" r="2.4"/><circle cx="615" cy="782.7" r="2.4"/><circle cx="615" cy="812.1" r="2.4"/></g>
<g stroke="#4f4f4f" stroke-width="1.7" fill="none">
<rect x="693.92" y="694.1" width="94.95" height="50.8" fill="#b9cee5"/>
<path d="M693.92 719.3H788.88M741.4 694.1V643.5M741.4 744.9V819.1M717 643.5h48.8M717 819.1h48.8"/>
</g>
<path d="M741.4 575.8l2.5 4.3l-2.5 4.3l-2.5 -4.3z" fill="#000"/><circle cx="741.4" cy="580.1" r="1.7999999999999998" fill="#000"/>
<path d="M741.4 841.8l2.5 4.3l-2.5 4.3l-2.5 -4.3z" fill="#000"/><circle cx="741.4" cy="846.1" r="1.7999999999999998" fill="#000"/>
<g fill="#000"><circle cx="741.4" cy="643.5" r="2.4"/><circle cx="741.4" cy="676.3" r="2.4"/><circle cx="726.4" cy="681.3" r="2.4"/><circle cx="733" cy="685.7" r="2.4"/><circle cx="741.4" cy="687.1" r="2.4"/><circle cx="750.2" cy="685.7" r="2.4"/><circle cx="735.6" cy="694.5" r="2.4"/><circle cx="741.4" cy="699.3" r="2.4"/><circle cx="735.6" cy="708.5" r="2.4"/><circle cx="747" cy="708.1" r="2.4"/><circle cx="741.4" cy="713.3" r="2.4"/><circle cx="735.6" cy="719.7" r="2.4"/><circle cx="747" cy="719.1" r="2.4"/><circle cx="755.6" cy="718.9" r="2.4"/><circle cx="741.4" cy="724.5" r="2.4"/><circle cx="741.4" cy="734.9" r="2.4"/><circle cx="726.8" cy="739.9" r="2.4"/><circle cx="748.6" cy="740.9" r="2.4"/><circle cx="757" cy="739.3" r="2.4"/><circle cx="733" cy="744.9" r="2.4"/><circle cx="741.4" cy="745.1" r="2.4"/><circle cx="733" cy="759.1" r="2.4"/><circle cx="741.4" cy="760.7" r="2.4"/><circle cx="733" cy="774.9" r="2.4"/><circle cx="741.4" cy="775.9" r="2.4"/><circle cx="733.2" cy="817.1" r="2.4"/><circle cx="741.4" cy="819.1" r="2.4"/></g>
<g stroke="#4f4f4f" stroke-width="1.7" fill="none">
<rect x="820.52" y="722.3" width="94.95" height="83" fill="#9aaed6"/>
<path d="M820.52 770.1H915.48M868 722.3V637.3M868 805.3V866.3M843.6 637.3h48.8M843.6 866.3h48.8"/>
</g>
<g fill="#000"><circle cx="868" cy="637.3" r="2.4"/><circle cx="873.2" cy="701.7" r="2.4"/><circle cx="859.8" cy="705.5" r="2.4"/><circle cx="868" cy="707.3" r="2.4"/><circle cx="874.6" cy="714.3" r="2.4"/><circle cx="866" cy="716.5" r="2.4"/><circle cx="879" cy="721.7" r="2.4"/><circle cx="870.2" cy="722.9" r="2.4"/><circle cx="862" cy="724.7" r="2.4"/><circle cx="868" cy="729.7" r="2.4"/><circle cx="868" cy="740.1" r="2.4"/><circle cx="859.4" cy="747.9" r="2.4"/><circle cx="868" cy="748.5" r="2.4"/><circle cx="871" cy="764.7" r="2.4"/><circle cx="866" cy="770.3" r="2.4"/><circle cx="858" cy="776.3" r="2.4"/><circle cx="869.4" cy="776.5" r="2.4"/><circle cx="863.4" cy="781.7" r="2.4"/><circle cx="868" cy="787.3" r="2.4"/><circle cx="860.2" cy="790.9" r="2.4"/><circle cx="868" cy="794.1" r="2.4"/><circle cx="868" cy="805.3" r="2.4"/><circle cx="859.4" cy="811.1" r="2.4"/><circle cx="868" cy="812.5" r="2.4"/><circle cx="876.2" cy="810.1" r="2.4"/><circle cx="885" cy="809.3" r="2.4"/><circle cx="865.6" cy="840.7" r="2.4"/><circle cx="868" cy="847.3" r="2.4"/><circle cx="868" cy="866.3" r="2.4"/></g>
<path d="M551.85 536.35V921.65H931.65" fill="none" stroke="#424242" stroke-width="1.2"/>
<path d="M551.85 557.76h-3.2M551.85 600.57h-3.2M551.85 643.38h-3.2M551.85 686.19h-3.2M551.85 729h-3.2M551.85 771.81h-3.2M551.85 814.62h-3.2M551.85 857.43h-3.2M551.85 900.24h-3.2M615.15 921.65v3.2M741.75 921.65v3.2M868.35 921.65v3.2" fill="none" stroke="#424242" stroke-width="1"/>
<text transform="translate(545.45 564.96) scale(1.02 1)" font-size="18.2" text-anchor="end">40</text>
<text transform="translate(545.45 607.77) scale(1.02 1)" font-size="18.2" text-anchor="end">30</text>
<text transform="translate(545.45 650.58) scale(1.02 1)" font-size="18.2" text-anchor="end">20</text>
<text transform="translate(545.45 693.39) scale(1.02 1)" font-size="18.2" text-anchor="end">10</text>
<text transform="translate(545.45 736.2) scale(1.02 1)" font-size="18.2" text-anchor="end">0</text>
<text transform="translate(545.45 779.01) scale(1.02 1)" font-size="18.2" text-anchor="end">−10</text>
<text transform="translate(545.45 821.82) scale(1.02 1)" font-size="18.2" text-anchor="end">−20</text>
<text transform="translate(545.45 864.63) scale(1.02 1)" font-size="18.2" text-anchor="end">−30</text>
<text transform="translate(545.45 907.44) scale(1.02 1)" font-size="18.2" text-anchor="end">−40</text>
<text transform="translate(614.15 941.85) scale(0.973 1)" font-size="18.2" text-anchor="middle">U-Net</text>
<text transform="translate(741.75 941.85) scale(1.052 1)" font-size="18.2" text-anchor="middle">FCN</text>
<text transform="translate(870.25 941.85) scale(1.052 1)" font-size="18.2" text-anchor="middle">MultiResUNet</text>
<text transform="translate(510.05 728.1) rotate(-90) scale(1.1 1)" font-size="17.7" text-anchor="middle">[ml]</text>
</g>
<g>
<text transform="translate(1235.35 519.75) scale(1.0114 1)" font-size="21.8" text-anchor="middle" font-weight="bold">RVEF</text>
<text transform="translate(1235.05 542.65) scale(1.0096 1)" font-size="18.2" text-anchor="middle">CNN – Expert</text>
<g stroke="#4f4f4f" stroke-width="1.7" fill="none">
<rect x="1060.93" y="701.1" width="94.95" height="75.8" fill="#dde9f3"/>
<path d="M1060.93 737.5H1155.88M1108.4 701.1V657.5M1108.4 776.9V867.3M1084 657.5h48.8M1084 867.3h48.8"/>
</g>
<g fill="#000"><circle cx="1102.4" cy="657.7" r="2.4"/><circle cx="1108.4" cy="661.9" r="2.4"/><circle cx="1108.4" cy="674.3" r="2.4"/><circle cx="1108.4" cy="688.3" r="2.4"/><circle cx="1115" cy="697.1" r="2.4"/><circle cx="1123.8" cy="696.5" r="2.4"/><circle cx="1100.4" cy="699.1" r="2.4"/><circle cx="1108.4" cy="701.3" r="2.4"/><circle cx="1100.6" cy="705.7" r="2.4"/><circle cx="1111.4" cy="709.9" r="2.4"/><circle cx="1103.2" cy="711.7" r="2.4"/><circle cx="1108.4" cy="716.9" r="2.4"/><circle cx="1103.4" cy="730.3" r="2.4"/><circle cx="1111.4" cy="732.7" r="2.4"/><circle cx="1093.6" cy="738.1" r="2.4"/><circle cx="1105.4" cy="737.7" r="2.4"/><circle cx="1099.8" cy="743.1" r="2.4"/><circle cx="1108.4" cy="743.7" r="2.4"/><circle cx="1117.2" cy="742.9" r="2.4"/><circle cx="1108.4" cy="769.9" r="2.4"/><circle cx="1094.4" cy="776.7" r="2.4"/><circle cx="1106" cy="777.1" r="2.4"/><circle cx="1114.6" cy="778.3" r="2.4"/><circle cx="1100" cy="781.7" r="2.4"/><circle cx="1108.4" cy="783.3" r="2.4"/><circle cx="1108.4" cy="791.7" r="2.4"/><circle cx="1108.4" cy="823.7" r="2.4"/><circle cx="1107.2" cy="861.3" r="2.4"/><circle cx="1108.4" cy="867.3" r="2.4"/></g>
<g stroke="#4f4f4f" stroke-width="1.7" fill="none">
<rect x="1187.53" y="703.1" width="94.95" height="41.2" fill="#b9cee5"/>
<path d="M1187.53 735.7H1282.47M1235 703.1V659.9M1235 744.3V790.7M1210.6 659.9h48.8M1210.6 790.7h48.8"/>
</g>
<path d="M1235 621.6l2.5 4.3l-2.5 4.3l-2.5 -4.3z" fill="#000"/><circle cx="1235" cy="625.9" r="1.7999999999999998" fill="#000"/>
<path d="M1235 627.2l2.5 4.3l-2.5 4.3l-2.5 -4.3z" fill="#000"/><circle cx="1235" cy="631.5" r="1.7999999999999998" fill="#000"/>
<path d="M1235 849.8l2.5 4.3l-2.5 4.3l-2.5 -4.3z" fill="#000"/><circle cx="1235" cy="854.1" r="1.7999999999999998" fill="#000"/>
<g fill="#000"><circle cx="1226.2" cy="661.3" r="2.4"/><circle cx="1235" cy="661.7" r="2.4"/><circle cx="1243.4" cy="659.9" r="2.4"/><circle cx="1235" cy="682.1" r="2.4"/><circle cx="1228.4" cy="699.1" r="2.4"/><circle cx="1235" cy="703.1" r="2.4"/><circle cx="1235" cy="709.9" r="2.4"/><circle cx="1227.2" cy="716.7" r="2.4"/><circle cx="1235" cy="719.9" r="2.4"/><circle cx="1235" cy="726.3" r="2.4"/><circle cx="1240.6" cy="732.1" r="2.4"/><circle cx="1249.4" cy="731.3" r="2.4"/><circle cx="1226.4" cy="735.7" r="2.4"/><circle cx="1235" cy="737.1" r="2.4"/><circle cx="1210.2" cy="739.9" r="2.4"/><circle cx="1218.8" cy="741.7" r="2.4"/><circle cx="1226.6" cy="744.1" r="2.4"/><circle cx="1242" cy="742.7" r="2.4"/><circle cx="1250.8" cy="741.9" r="2.4"/><circle cx="1259.6" cy="740.1" r="2.4"/><circle cx="1235" cy="746.1" r="2.4"/><circle cx="1235" cy="755.7" r="2.4"/><circle cx="1230" cy="777.9" r="2.4"/><circle cx="1236.6" cy="782.1" r="2.4"/><circle cx="1229.4" cy="785.9" r="2.4"/><circle cx="1235" cy="790.7" r="2.4"/></g>
<g stroke="#4f4f4f" stroke-width="1.7" fill="none">
<rect x="1314.12" y="682.9" width="94.95" height="59.8" fill="#9aaed6"/>
<path d="M1314.12 716.5H1409.07M1361.6 682.9V602.1M1361.6 742.7V770.9M1337.2 602.1h48.8M1337.2 770.9h48.8"/>
</g>
<path d="M1361.6 856.8l2.5 4.3l-2.5 4.3l-2.5 -4.3z" fill="#000"/><circle cx="1361.6" cy="861.1" r="1.7999999999999998" fill="#000"/>
<g fill="#000"><circle cx="1361.6" cy="602.1" r="2.4"/><circle cx="1361.6" cy="640.3" r="2.4"/><circle cx="1359" cy="659.9" r="2.4"/><circle cx="1361.6" cy="665.9" r="2.4"/><circle cx="1341.8" cy="680.7" r="2.4"/><circle cx="1350" cy="682.7" r="2.4"/><circle cx="1358.6" cy="683.5" r="2.4"/><circle cx="1367.2" cy="682.9" r="2.4"/><circle cx="1375.4" cy="681.3" r="2.4"/><circle cx="1353" cy="688.7" r="2.4"/><circle cx="1361.6" cy="689.5" r="2.4"/><circle cx="1370.6" cy="688.7" r="2.4"/><circle cx="1361.6" cy="697.7" r="2.4"/><circle cx="1361.6" cy="704.7" r="2.4"/><circle cx="1360" cy="716.7" r="2.4"/><circle cx="1345" cy="719.5" r="2.4"/><circle cx="1353" cy="721.7" r="2.4"/><circle cx="1361.6" cy="722.9" r="2.4"/><circle cx="1370.6" cy="721.7" r="2.4"/><circle cx="1353.2" cy="728.9" r="2.4"/><circle cx="1361.6" cy="731.3" r="2.4"/><circle cx="1353.6" cy="743.3" r="2.4"/><circle cx="1361.6" cy="745.1" r="2.4"/><circle cx="1369.4" cy="742.7" r="2.4"/><circle cx="1353" cy="754.1" r="2.4"/><circle cx="1361.6" cy="755.1" r="2.4"/><circle cx="1361.6" cy="763.1" r="2.4"/><circle cx="1361.6" cy="771.1" r="2.4"/></g>
<path d="M1045.25 536.35V921.65H1425.05" fill="none" stroke="#424242" stroke-width="1.2"/>
<path d="M1045.25 574.88h-3.2M1045.25 651.94h-3.2M1045.25 729h-3.2M1045.25 806.06h-3.2M1045.25 883.12h-3.2M1108.55 921.65v3.2M1235.15 921.65v3.2M1361.75 921.65v3.2" fill="none" stroke="#424242" stroke-width="1"/>
<text transform="translate(1038.85 582.08) scale(1.02 1)" font-size="18.2" text-anchor="end">20</text>
<text transform="translate(1038.85 659.14) scale(1.02 1)" font-size="18.2" text-anchor="end">10</text>
<text transform="translate(1038.85 736.2) scale(1.02 1)" font-size="18.2" text-anchor="end">0</text>
<text transform="translate(1038.85 813.26) scale(1.02 1)" font-size="18.2" text-anchor="end">−10</text>
<text transform="translate(1038.85 890.32) scale(1.02 1)" font-size="18.2" text-anchor="end">−20</text>
<text transform="translate(1107.55 941.85) scale(0.973 1)" font-size="18.2" text-anchor="middle">U-Net</text>
<text transform="translate(1235.15 941.85) scale(1.052 1)" font-size="18.2" text-anchor="middle">FCN</text>
<text transform="translate(1363.65 941.85) scale(1.052 1)" font-size="18.2" text-anchor="middle">MultiResUNet</text>
<text transform="translate(1003.45 726.1) rotate(-90) scale(1.05 1)" font-size="17.7" text-anchor="middle" word-spacing="-2.4">[ % ]</text>
</g>
<g>
<text transform="translate(1729.35 519.75) scale(1.014 1)" font-size="21.8" text-anchor="middle" font-weight="bold">Dice</text>
<g stroke="#1f1f1f" stroke-width="1.35" fill="none">
<rect x="1548.6" y="683.5" width="52.8" height="73.6" fill="#dde9f3"/>
<path d="M1548.6 715.1H1601.4M1575 683.5V616.5M1575 757.1V813.1M1561.3 616.5h27.4M1561.3 813.1h27.4"/>
</g>
<g fill="#000"><circle cx="1576.8" cy="616.5" r="1.95"/><circle cx="1576.8" cy="637.1" r="1.95"/><circle cx="1576.8" cy="644.5" r="1.95"/><circle cx="1576.8" cy="660.3" r="1.95"/><circle cx="1576.8" cy="671.7" r="1.95"/><circle cx="1562.8" cy="682.1" r="1.95"/><circle cx="1569.8" cy="684.3" r="1.95"/><circle cx="1576.8" cy="685.3" r="1.95"/><circle cx="1583.6" cy="683.5" r="1.95"/><circle cx="1576.8" cy="693.3" r="1.95"/><circle cx="1570.2" cy="706.9" r="1.95"/><circle cx="1576.8" cy="709.3" r="1.95"/><circle cx="1570" cy="714.1" r="1.95"/><circle cx="1576.8" cy="715.5" r="1.95"/><circle cx="1576.8" cy="723.1" r="1.95"/><circle cx="1576.8" cy="734.1" r="1.95"/><circle cx="1562.8" cy="741.7" r="1.95"/><circle cx="1569.8" cy="744.1" r="1.95"/><circle cx="1576.8" cy="744.1" r="1.95"/><circle cx="1583.6" cy="743.1" r="1.95"/><circle cx="1576.8" cy="756.9" r="1.95"/><circle cx="1583.6" cy="763.7" r="1.95"/><circle cx="1575" cy="765.1" r="1.95"/><circle cx="1580.4" cy="768.1" r="1.95"/><circle cx="1570" cy="770.7" r="1.95"/><circle cx="1576.8" cy="772.5" r="1.95"/><circle cx="1576.8" cy="783.3" r="1.95"/><circle cx="1576.4" cy="813.1" r="1.95"/><circle cx="1575.8" cy="680.1" r="1.95"/></g>
<g stroke="#1f1f1f" stroke-width="1.35" fill="none">
<rect x="1602.6" y="652.9" width="52.8" height="49.8" fill="#fdd094"/>
<path d="M1602.6 674.9H1655.4M1628.8 652.9V615.1M1628.8 702.7V757.3M1615.1 615.1h27.4M1615.1 757.3h27.4"/>
</g>
<g fill="#000"><circle cx="1627.2" cy="615.1" r="1.95"/><circle cx="1622.8" cy="628.3" r="1.95"/><circle cx="1627.2" cy="632.3" r="1.95"/><circle cx="1634.4" cy="632.3" r="1.95"/><circle cx="1622.8" cy="637.5" r="1.95"/><circle cx="1627.2" cy="641.9" r="1.95"/><circle cx="1632.4" cy="650.7" r="1.95"/><circle cx="1620.4" cy="652.9" r="1.95"/><circle cx="1627.2" cy="654.7" r="1.95"/><circle cx="1620.2" cy="661.5" r="1.95"/><circle cx="1627.2" cy="661.9" r="1.95"/><circle cx="1634.4" cy="660.7" r="1.95"/><circle cx="1627.2" cy="669.9" r="1.95"/><circle cx="1618.4" cy="676.1" r="1.95"/><circle cx="1625.4" cy="678.5" r="1.95"/><circle cx="1631.6" cy="675.3" r="1.95"/><circle cx="1638" cy="674.3" r="1.95"/><circle cx="1621.8" cy="682.5" r="1.95"/><circle cx="1630.8" cy="681.9" r="1.95"/><circle cx="1637.4" cy="679.7" r="1.95"/><circle cx="1627.2" cy="686.3" r="1.95"/><circle cx="1627.2" cy="702.7" r="1.95"/><circle cx="1624" cy="710.3" r="1.95"/><circle cx="1631" cy="708.9" r="1.95"/><circle cx="1627.2" cy="714.9" r="1.95"/><circle cx="1627.2" cy="722.3" r="1.95"/><circle cx="1627.2" cy="738.1" r="1.95"/><circle cx="1627.2" cy="750.3" r="1.95"/><circle cx="1627.2" cy="757.3" r="1.95"/></g>
<g stroke="#1f1f1f" stroke-width="1.35" fill="none">
<rect x="1675.2" y="693.3" width="53" height="53.4" fill="#b9cee5"/>
<path d="M1675.2 720.1H1728.2M1701.6 693.3V631.1M1701.6 746.7V803.5M1687.9 631.1h27.4M1687.9 803.5h27.4"/>
</g>
<path d="M1701.6 600.4l2.5 4.3l-2.5 4.3l-2.5 -4.3z" fill="#000"/><circle cx="1701.6" cy="604.7" r="1.35" fill="#000"/>
<path d="M1701.6 873l2.5 4.3l-2.5 4.3l-2.5 -4.3z" fill="#000"/><circle cx="1701.6" cy="877.3" r="1.35" fill="#000"/>
<g fill="#000"><circle cx="1703.2" cy="631.1" r="1.95"/><circle cx="1703.2" cy="667.5" r="1.95"/><circle cx="1699.4" cy="674.7" r="1.95"/><circle cx="1703.2" cy="678.9" r="1.95"/><circle cx="1703.2" cy="685.9" r="1.95"/><circle cx="1708" cy="693.3" r="1.95"/><circle cx="1715" cy="692.3" r="1.95"/><circle cx="1697.2" cy="695.1" r="1.95"/><circle cx="1703.2" cy="697.3" r="1.95"/><circle cx="1698" cy="702.3" r="1.95"/><circle cx="1703.2" cy="705.7" r="1.95"/><circle cx="1696.2" cy="710.9" r="1.95"/><circle cx="1703.2" cy="710.9" r="1.95"/><circle cx="1697.2" cy="720.1" r="1.95"/><circle cx="1703.2" cy="722.1" r="1.95"/><circle cx="1710.2" cy="727.3" r="1.95"/><circle cx="1696.2" cy="727.7" r="1.95"/><circle cx="1703.2" cy="729.1" r="1.95"/><circle cx="1703.2" cy="737.9" r="1.95"/><circle cx="1698" cy="746.9" r="1.95"/><circle cx="1703.2" cy="750.3" r="1.95"/><circle cx="1703.2" cy="757.1" r="1.95"/><circle cx="1703.2" cy="772.3" r="1.95"/><circle cx="1703.2" cy="789.1" r="1.95"/><circle cx="1703.2" cy="795.7" r="1.95"/><circle cx="1703.2" cy="803.5" r="1.95"/><circle cx="1706.2" cy="745.4" r="1.95"/></g>
<g stroke="#1f1f1f" stroke-width="1.35" fill="none">
<rect x="1729.2" y="677.9" width="53" height="44.4" fill="#fda46f"/>
<path d="M1729.2 691.5H1782.2M1755.4 677.9V632.7M1755.4 722.3V758.5M1741.7 632.7h27.4M1741.7 758.5h27.4"/>
</g>
<path d="M1755.4 788.4l2.5 4.3l-2.5 4.3l-2.5 -4.3z" fill="#000"/><circle cx="1755.4" cy="792.7" r="1.35" fill="#000"/>
<path d="M1755.4 805.4l2.5 4.3l-2.5 4.3l-2.5 -4.3z" fill="#000"/><circle cx="1755.4" cy="809.7" r="1.35" fill="#000"/>
<g fill="#000"><circle cx="1748" cy="632.7" r="1.95"/><circle cx="1753.8" cy="636.5" r="1.95"/><circle cx="1746.8" cy="641.7" r="1.95"/><circle cx="1753.8" cy="642.9" r="1.95"/><circle cx="1753.8" cy="660.9" r="1.95"/><circle cx="1753.8" cy="673.1" r="1.95"/><circle cx="1743.4" cy="677.9" r="1.95"/><circle cx="1753.8" cy="678.7" r="1.95"/><circle cx="1762.8" cy="677.1" r="1.95"/><circle cx="1748" cy="682.3" r="1.95"/><circle cx="1759" cy="681.9" r="1.95"/><circle cx="1753.8" cy="684.9" r="1.95"/><circle cx="1765.8" cy="689.3" r="1.95"/><circle cx="1758.6" cy="689.7" r="1.95"/><circle cx="1747.2" cy="691.7" r="1.95"/><circle cx="1753.8" cy="693.3" r="1.95"/><circle cx="1747.2" cy="699.7" r="1.95"/><circle cx="1753.8" cy="701.3" r="1.95"/><circle cx="1748" cy="707.3" r="1.95"/><circle cx="1753.8" cy="710.3" r="1.95"/><circle cx="1753.8" cy="716.5" r="1.95"/><circle cx="1751" cy="722.3" r="1.95"/><circle cx="1753.8" cy="727.3" r="1.95"/><circle cx="1753.8" cy="733.3" r="1.95"/><circle cx="1753.8" cy="739.1" r="1.95"/><circle cx="1753.8" cy="744.9" r="1.95"/><circle cx="1753.8" cy="758.5" r="1.95"/></g>
<g stroke="#1f1f1f" stroke-width="1.35" fill="none">
<rect x="1801.8" y="704.5" width="52.8" height="78.4" fill="#9aaed6"/>
<path d="M1801.8 720.9H1854.6M1828.2 704.5V649.3M1828.2 782.9V803.3M1814.5 649.3h27.4M1814.5 803.3h27.4"/>
</g>
<g fill="#000"><circle cx="1823.6" cy="649.3" r="1.95"/><circle cx="1829.8" cy="652.5" r="1.95"/><circle cx="1826" cy="675.3" r="1.95"/><circle cx="1829.8" cy="679.9" r="1.95"/><circle cx="1829.8" cy="688.7" r="1.95"/><circle cx="1829.8" cy="695.3" r="1.95"/><circle cx="1816.4" cy="702.5" r="1.95"/><circle cx="1822.8" cy="704.7" r="1.95"/><circle cx="1829.8" cy="704.9" r="1.95"/><circle cx="1836.8" cy="704.3" r="1.95"/><circle cx="1835" cy="709.3" r="1.95"/><circle cx="1822.8" cy="711.3" r="1.95"/><circle cx="1829.8" cy="713.3" r="1.95"/><circle cx="1833.8" cy="718.1" r="1.95"/><circle cx="1828" cy="720.9" r="1.95"/><circle cx="1829.8" cy="726.3" r="1.95"/><circle cx="1829.8" cy="733.9" r="1.95"/><circle cx="1829.8" cy="747.1" r="1.95"/><circle cx="1826" cy="752.9" r="1.95"/><circle cx="1829.8" cy="756.9" r="1.95"/><circle cx="1829.8" cy="772.5" r="1.95"/><circle cx="1822.8" cy="783.9" r="1.95"/><circle cx="1829.8" cy="784.3" r="1.95"/><circle cx="1836.8" cy="782.9" r="1.95"/><circle cx="1829.8" cy="790.9" r="1.95"/><circle cx="1829.8" cy="797.3" r="1.95"/><circle cx="1836.8" cy="797.3" r="1.95"/><circle cx="1823.6" cy="800.9" r="1.95"/><circle cx="1829.8" cy="803.3" r="1.95"/></g>
<g stroke="#1f1f1f" stroke-width="1.35" fill="none">
<rect x="1855.6" y="679.5" width="53" height="61" fill="#f2754c"/>
<path d="M1855.6 705.3H1908.6M1882 679.5V619.1M1882 740.5V785.9M1868.3 619.1h27.4M1868.3 785.9h27.4"/>
</g>
<g fill="#000"><circle cx="1880.42" cy="619.14" r="1.95"/><circle cx="1875.59" cy="638.43" r="1.95"/><circle cx="1880.42" cy="642.05" r="1.95"/><circle cx="1880.42" cy="659.93" r="1.95"/><circle cx="1874.19" cy="671.78" r="1.95"/><circle cx="1886.04" cy="671.38" r="1.95"/><circle cx="1880.42" cy="675.2" r="1.95"/><circle cx="1873.79" cy="679.42" r="1.95"/><circle cx="1880.42" cy="680.62" r="1.95"/><circle cx="1878" cy="685.24" r="1.95"/><circle cx="1880.42" cy="690.27" r="1.95"/><circle cx="1873.58" cy="694.29" r="1.95"/><circle cx="1880.42" cy="695.69" r="1.95"/><circle cx="1885.04" cy="702.52" r="1.95"/><circle cx="1873.58" cy="705.14" r="1.95"/><circle cx="1880.42" cy="706.74" r="1.95"/><circle cx="1873.58" cy="716.99" r="1.95"/><circle cx="1880.42" cy="718.4" r="1.95"/><circle cx="1874.19" cy="732.86" r="1.95"/><circle cx="1880.42" cy="735.88" r="1.95"/><circle cx="1886.04" cy="738.49" r="1.95"/><circle cx="1873.58" cy="740.5" r="1.95"/><circle cx="1880.42" cy="742.11" r="1.95"/><circle cx="1880.42" cy="747.93" r="1.95"/><circle cx="1873.18" cy="760.79" r="1.95"/><circle cx="1880.42" cy="761.19" r="1.95"/><circle cx="1880.42" cy="772.04" r="1.95"/><circle cx="1878" cy="780.88" r="1.95"/><circle cx="1880.42" cy="785.71" r="1.95"/></g>
<path d="M1538.65 536.35V921.65H1918.45" fill="none" stroke="#424242" stroke-width="1.2"/>
<path d="M1538.65 570.35h-3.2M1538.65 615.68h-3.2M1538.65 661.01h-3.2M1538.65 706.34h-3.2M1538.65 751.66h-3.2M1538.65 796.99h-3.2M1538.65 842.32h-3.2M1538.65 887.65h-3.2M1601.95 921.65v3.2M1728.55 921.65v3.2M1855.15 921.65v3.2" fill="none" stroke="#424242" stroke-width="1"/>
<text transform="translate(1532.25 577.55) scale(1.02 1)" font-size="18.2" text-anchor="end">94</text>
<text transform="translate(1532.25 622.88) scale(1.02 1)" font-size="18.2" text-anchor="end">92</text>
<text transform="translate(1532.25 668.21) scale(1.02 1)" font-size="18.2" text-anchor="end">90</text>
<text transform="translate(1532.25 713.54) scale(1.02 1)" font-size="18.2" text-anchor="end">88</text>
<text transform="translate(1532.25 758.86) scale(1.02 1)" font-size="18.2" text-anchor="end">86</text>
<text transform="translate(1532.25 804.19) scale(1.02 1)" font-size="18.2" text-anchor="end">84</text>
<text transform="translate(1532.25 849.52) scale(1.02 1)" font-size="18.2" text-anchor="end">82</text>
<text transform="translate(1532.25 894.85) scale(1.02 1)" font-size="18.2" text-anchor="end">80</text>
<text transform="translate(1600.95 941.85) scale(0.973 1)" font-size="18.2" text-anchor="middle">U-Net</text>
<text transform="translate(1728.55 941.85) scale(1.052 1)" font-size="18.2" text-anchor="middle">FCN</text>
<text transform="translate(1857.05 941.85) scale(1.052 1)" font-size="18.2" text-anchor="middle">MultiResUNet</text>
<text transform="translate(1495.85 726.1) rotate(-90) scale(1.05 1)" font-size="17.7" text-anchor="middle" word-spacing="-2.4">[ % ]</text>
<rect x="1543.4" y="891" width="373.6" height="25.2" rx="3" ry="3" fill="#fff" fill-opacity="0.8" stroke="#ccc" stroke-width="1"/>
<g font-size="14.9">
<text x="1551" y="907.7" font-size="14.9" textLength="158" lengthAdjust="spacing">Segmented by both:</text>
<rect x="1723.4" y="898.4" width="30.2" height="10.4" fill="#b9cee5" stroke="#444" stroke-width="0.8"/>
<text transform="translate(1765 907.9) scale(1.03 1)">False</text>
<rect x="1831.4" y="898.4" width="30.2" height="10.4" fill="#fda46f" stroke="#444" stroke-width="0.8"/>
<text transform="translate(1872.3 907.9) scale(1.01 1)">True</text>
</g>
</g>
</svg>
</body></html>
